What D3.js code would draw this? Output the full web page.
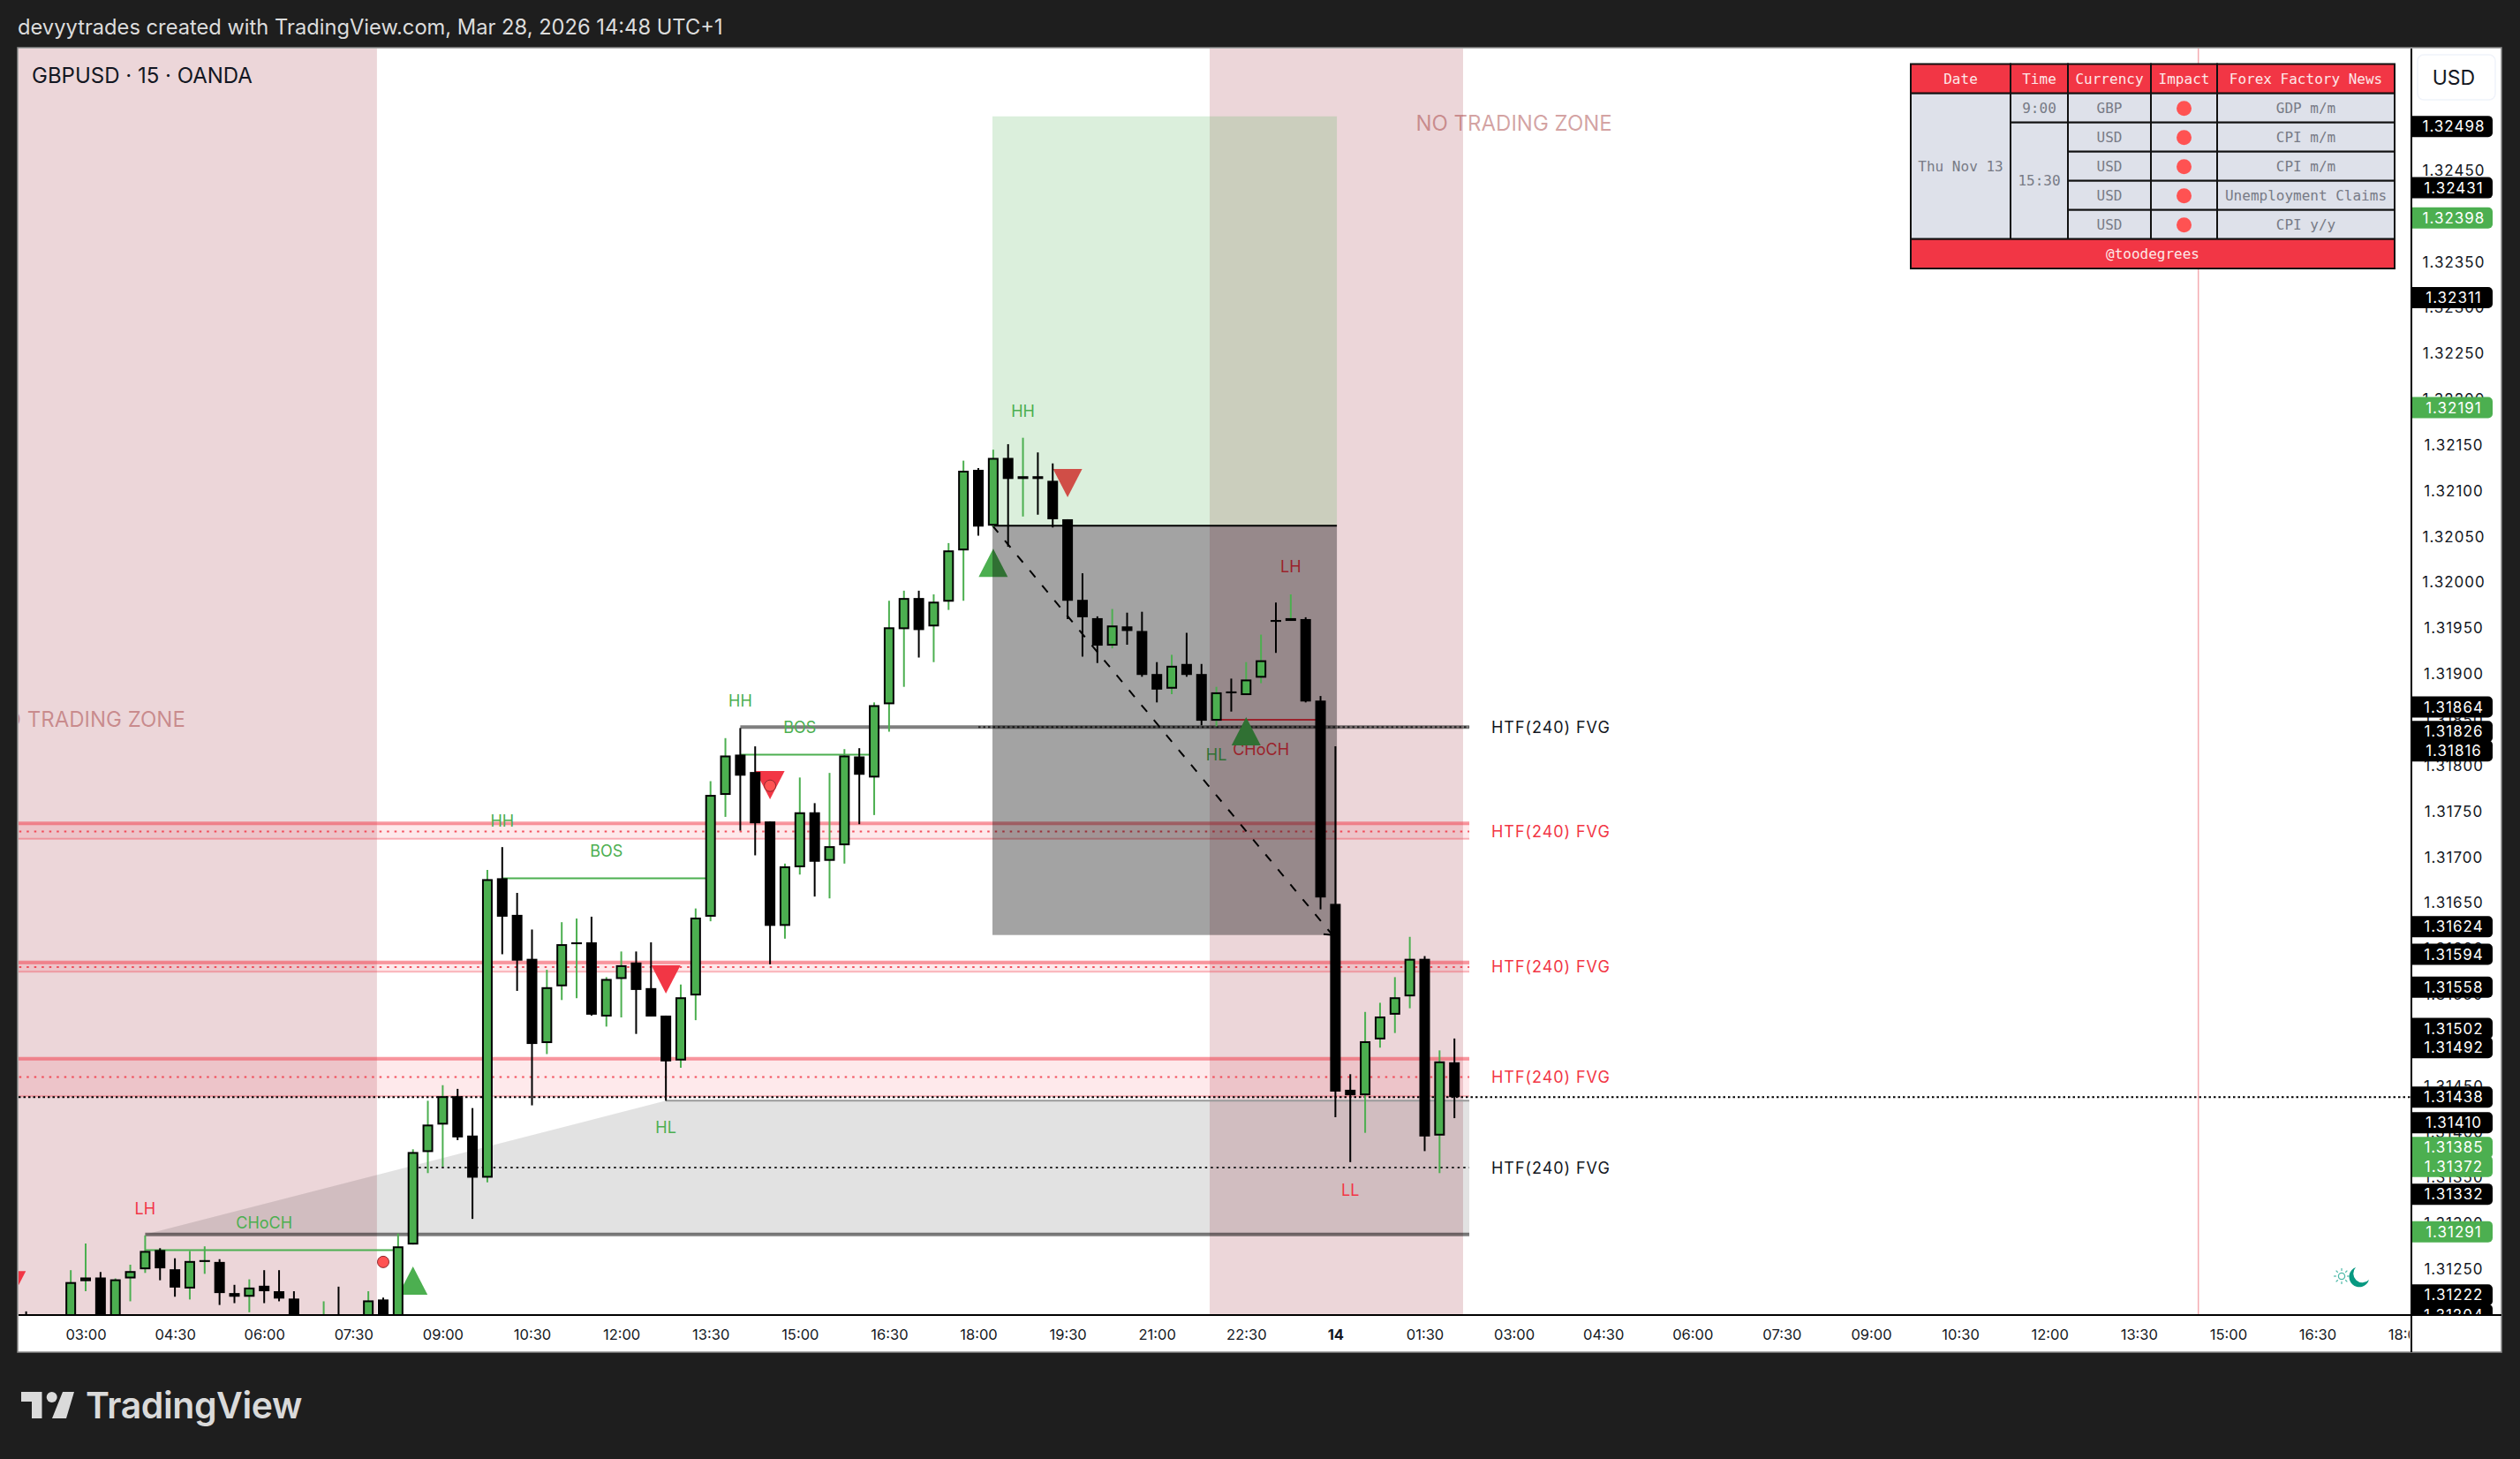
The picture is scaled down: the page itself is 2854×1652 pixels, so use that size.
<!DOCTYPE html>
<html>
<head>
<meta charset="utf-8">
<script src="https://cdn.jsdelivr.net/npm/d3@7"></script>
<style>
html,body{margin:0;padding:0;background:#1e1e1e;overflow:hidden}
svg{display:block}
text{font-family:Inter,"Noto Sans",sans-serif}
</style>
</head>
<body>
<div id="chart"></div>
<script>
// ---------- DATA ----------
const firstBar = -4;
const highs = [
1.31204,1.31190,1.31195,1.31249,1.31278,1.31247,1.31240,1.31255,1.31287,1.31273,
1.31262,1.31270,1.31275,1.31261,1.31233,1.31239,1.31249,1.31249,1.31226,1.31195,
1.31215,1.31231,1.31195,1.31226,1.31219,1.31289,1.31381,1.31434,1.31451,1.31447,
1.31426,1.31686,1.31711,1.31661,1.31621,1.31577,1.31629,1.31633,1.31635,1.31569,
1.31597,1.31597,1.31607,1.31527,1.31561,1.31644,1.31783,1.31830,1.31841,1.31821,
1.31739,1.31693,1.31787,1.31759,1.31792,1.31818,1.31819,1.31869,1.31980,1.31991,
1.31991,1.31987,1.32043,1.32133,1.32125,1.32145,1.32151,1.32158,1.32142,1.32130,
1.32069,1.32010,1.31963,1.31971,1.31967,1.31968,1.31913,1.31921,1.31945,1.31911,
1.31886,1.31895,1.31913,1.31943,1.31978,1.31987,1.31962,1.31876,1.31821,1.31463,
1.31531,1.31541,1.31569,1.31613,1.31592,1.31489,1.31502];
const lows = [
1.31170,1.31170,1.31172,1.31180,1.31226,1.31180,1.31180,1.31215,1.31246,1.31238,
1.31220,1.31217,1.31245,1.31211,1.31213,1.31203,1.31213,1.31215,1.31180,1.31170,
1.31170,1.31170,1.31170,1.31170,1.31170,1.31170,1.31277,1.31355,1.31362,1.31391,
1.31305,1.31345,1.31594,1.31554,1.31429,1.31485,1.31544,1.31546,1.31527,1.31515,
1.31525,1.31507,1.31526,1.31434,1.31470,1.31522,1.31630,1.31744,1.31729,1.31702,
1.31583,1.31611,1.31681,1.31657,1.31655,1.31693,1.31736,1.31746,1.31837,1.31886,
1.31918,1.31913,1.31970,1.31980,1.32051,1.32061,1.32039,1.32072,1.32074,1.32060,
1.31960,1.31919,1.31912,1.31928,1.31932,1.31897,1.31869,1.31878,1.31897,1.31844,
1.31843,1.31859,1.31877,1.31890,1.31923,1.31958,1.31869,1.31643,1.31416,1.31367,
1.31399,1.31492,1.31508,1.31535,1.31379,1.31355,1.31415];
const opens = [
1.31195,1.31175,1.31178,1.31190,1.31237,1.31241,1.31190,1.31240,1.31250,1.31271,
1.31250,1.31229,1.31258,1.31258,1.31224,1.31220,1.31232,1.31226,1.31218,1.31190,
1.31180,1.31198,1.31180,1.31180,1.31217,1.31180,1.31277,1.31378,1.31408,1.31439,
1.31396,1.31350,1.31677,1.31637,1.31589,1.31497,1.31559,1.31605,1.31607,1.31526,
1.31567,1.31585,1.31557,1.31527,1.31478,1.31549,1.31635,1.31768,1.31812,1.31793,
1.31739,1.31625,1.31689,1.31749,1.31696,1.31713,1.31810,1.31787,1.31867,1.31949,
1.31983,1.31952,1.31979,1.32035,1.32123,1.32062,1.32136,1.32113,1.32116,1.32111,
1.32069,1.31981,1.31961,1.31931,1.31952,1.31947,1.31900,1.31884,1.31911,1.31900,
1.31849,1.31881,1.31877,1.31896,1.31959,1.31958,1.31960,1.31871,1.31649,1.31446,
1.31440,1.31501,1.31528,1.31548,1.31589,1.31396,1.31476];
const closes = [
1.31180,1.31185,1.31190,1.31236,1.31241,1.31190,1.31239,1.31248,1.31270,1.31251,
1.31230,1.31259,1.31260,1.31224,1.31220,1.31230,1.31226,1.31218,1.31190,1.31178,
1.31195,1.31180,1.31193,1.31216,1.31180,1.31275,1.31378,1.31408,1.31439,1.31394,
1.31350,1.31676,1.31635,1.31587,1.31496,1.31558,1.31605,1.31607,1.31528,1.31567,
1.31582,1.31555,1.31526,1.31477,1.31547,1.31634,1.31768,1.31811,1.31789,1.31737,
1.31625,1.31690,1.31749,1.31695,1.31712,1.31811,1.31790,1.31866,1.31951,1.31983,
1.31948,1.31979,1.32035,1.32122,1.32061,1.32136,1.32113,1.32116,1.32113,1.32069,
1.31980,1.31962,1.31931,1.31953,1.31947,1.31899,1.31883,1.31909,1.31899,1.31849,
1.31880,1.31880,1.31894,1.31915,1.31958,1.31961,1.31870,1.31656,1.31444,1.31440,
1.31499,1.31526,1.31547,1.31589,1.31395,1.31477,1.31438];

const timeTickBars = [0,6,12,18,24,30,36,42,48,54,60,66,72,78,84,90,96,102,108,114,120,126,132,138,144,150,156];
const timeTickLabels = ["03:00","04:30","06:00","07:30","09:00","10:30","12:00","13:30","15:00","16:30","18:00","19:30","21:00","22:30","14","01:30","03:00","04:30","06:00","07:30","09:00","10:30","12:00","13:30","15:00","16:30","18:00"];
const priceTicks = [1.325,1.3245,1.324,1.3235,1.323,1.3225,1.322,1.3215,1.321,1.3205,1.32,1.3195,1.319,1.3185,1.318,1.3175,1.317,1.3165,1.316,1.3155,1.315,1.3145,1.314,1.3135,1.313,1.3125];
const blackTags = [1.32498,1.32431,1.32311,1.31864,1.31826,1.31816,1.31624,1.31594,1.31558,1.31502,1.31492,1.31438,1.31410,1.31332,1.31222,1.31204];
const greenTags = [1.32398,1.32191,1.31385,1.31372,1.31291];

const sessionStarts = [-8,75.55];
const sessionEnds = [19.58,92.58];
const sessionTitleBars = [0.1,96];
const sessionTitlePrices = [1.31851,1.32502];

const fvgTops = [1.31737,1.31585,1.31480];
const fvgMids = [1.31728,1.31580,1.31460];
const fvgBottoms = [1.31720,1.31575,1.31439];
const fvgRedLabelPrices = [1.31728,1.31580,1.31460];
const fvgBlackPrices = [1.31842,1.31361];
const lastClose = 1.31438;

const labelTexts = ["LH","CHoCH","HL","HH","BOS","HH","BOS","HH","LH","HL","CHoCH","LL"];
const labelBars = [4,12,39,28,35,44,48,63,81,76,79,85];
const labelPrices = [1.31316,1.31301,1.31405,1.31740,1.31707,1.31871,1.31842,1.32187,1.32017,1.31812,1.31818,1.31336];
const labelBull = [false,true,true,true,true,true,true,true,false,true,false,false];

const triUpBars = [22,61,78];
const triUpPrices = [1.31253,1.32037,1.31853];
const triDownBars = [-5,39,46,66];
const triDownPrices = [1.31248,1.31582,1.31794,1.32124];
const dotBars = [20,46];
const dotPrices = [1.31258,1.31778];

const breakFrom = [28,44,4,76];
const breakTo = [42,53,21,83];
const breakPrices = [1.31677,1.31812,1.31271,1.31850];
const breakBull = [true,true,true,false];

const tradeStartBar = 60.95, tradeEndBar = 84.1;
const tradeTarget = 1.32509, tradeEntry = 1.32062, tradeStop = 1.31615;
const tradeExitBar = 83.8;

const gapStartBar = 4, gapPivotBar = 39, zoneEndBar = 93;
const gapTop = 1.31434, gapBottom = 1.31288, gapMidStartBar = 22, fvgBlackTopStartBar = 44, fvgBlackDotStartBar = 60;
const nowBar = 142;

const tableHead = ["Date","Time","Currency","Impact","Forex Factory News"];
const newsDate = "Thu Nov 13";
const newsCurrency = ["GBP","USD","USD","USD","USD"];
const newsName = ["GDP m/m","CPI m/m","CPI m/m","Unemployment Claims","CPI y/y"];
const tableFooter = "@toodegrees";

// ---------- LAYOUT ----------
const W=2854,H=1652, L=21,T=55,R=2730,B=1489,FR=2833,FB=1531;
const green="#4caf50", red="#f23645";
const svg=d3.select("#chart").append("svg").attr("width",W).attr("height",H);
const x=d3.scaleLinear().domain([0,90]).range([97,1613.5]);
const y=d3.scaleLinear().domain([1.312,1.32583]).range([B,T]);

svg.append("rect").attr("width",W).attr("height",H).attr("fill","#1e1e1e");
svg.append("rect").attr("x",20).attr("y",54).attr("width",FR-20).attr("height",FB-54).attr("fill","#fff").attr("stroke","#8a8a8a").attr("stroke-width",1.5);
const defs=svg.append("defs");
defs.append("clipPath").attr("id","plot").append("rect").attr("x",L).attr("y",T).attr("width",R-L).attr("height",B-T);
defs.append("clipPath").attr("id","prices").append("rect").attr("x",R).attr("y",T).attr("width",FR-R).attr("height",B-T);
defs.append("clipPath").attr("id","times").append("rect").attr("x",L).attr("y",B).attr("width",R-L-1).attr("height",FB-B);

svg.append("text").attr("x",20).attr("y",31).attr("dy",".35em").attr("fill","#dcdcdc").attr("font-size",23.7)
  .text("devyytrades created with TradingView.com, Mar 28, 2026 14:48 UTC+1");

const plot=svg.append("g").attr("clip-path","url(#plot)");

// now line
plot.append("line").attr("x1",x(nowBar)).attr("x2",x(nowBar)).attr("y1",T).attr("y2",B).attr("stroke","#f5abb1").attr("stroke-width",1.5);

// sessions
plot.selectAll(".sess").data(sessionStarts).join("rect")
  .attr("x",d=>x(d)).attr("y",T).attr("width",(d,i)=>x(sessionEnds[i])-x(d)).attr("height",B-T).attr("fill","rgba(139,0,20,.16)");
plot.selectAll(".stitle").data(sessionTitleBars).join("text")
  .attr("x",d=>x(d)).attr("y",(d,i)=>y(sessionTitlePrices[i])).attr("dy",".36em").attr("text-anchor","middle")
  .attr("font-size",24).attr("fill","rgba(150,30,30,.42)").text("NO TRADING ZONE");

// gap polygon
const ln=d3.line().x(d=>x(d[0])).y(d=>y(d[1]));
plot.append("path").attr("d",ln([[gapStartBar,gapBottom],[gapPivotBar,gapTop],[zoneEndBar,gapTop],[zoneEndBar,gapBottom]])+"Z").attr("fill","rgba(0,0,0,.115)");
plot.append("path").attr("d",ln([[gapPivotBar,gapTop],[zoneEndBar,gapTop]])).attr("stroke","#999").attr("stroke-width",2).attr("fill","none");
plot.append("path").attr("d",ln([[gapStartBar,gapBottom],[zoneEndBar,gapBottom]])).attr("stroke","rgba(0,0,0,.5)").attr("stroke-width",4).attr("fill","none");
plot.append("path").attr("d",ln([[gapMidStartBar,fvgBlackPrices[1]],[zoneEndBar,fvgBlackPrices[1]]])).attr("stroke","#222").attr("stroke-width",2).attr("stroke-dasharray","2.5,4").attr("fill","none");
plot.append("path").attr("d",ln([[fvgBlackTopStartBar,fvgBlackPrices[0]],[zoneEndBar,fvgBlackPrices[0]]])).attr("stroke","rgba(0,0,0,.5)").attr("stroke-width",4).attr("fill","none");
plot.append("path").attr("d",ln([[fvgBlackDotStartBar,fvgBlackPrices[0]],[zoneEndBar,fvgBlackPrices[0]]])).attr("stroke","#222").attr("stroke-width",2).attr("stroke-dasharray","2.5,3").attr("fill","none");

// red FVG bands
fvgTops.forEach((t,i)=>{
  const g=plot.append("g");
  g.append("rect").attr("x",x(-8)).attr("y",y(t)).attr("width",x(zoneEndBar)-x(-8)).attr("height",y(fvgBottoms[i])-y(t)).attr("fill","rgba(242,54,69,.11)");
  g.append("line").attr("x1",x(-8)).attr("x2",x(zoneEndBar)).attr("y1",y(t)).attr("y2",y(t)).attr("stroke","rgba(242,54,69,.5)").attr("stroke-width",4);
  g.append("line").attr("x1",x(-8)).attr("x2",x(zoneEndBar)).attr("y1",y(fvgBottoms[i])).attr("y2",y(fvgBottoms[i])).attr("stroke","rgba(242,54,69,.35)").attr("stroke-width",2);
  g.append("line").attr("x1",x(-8)).attr("x2",x(zoneEndBar)).attr("y1",y(fvgMids[i])).attr("y2",y(fvgMids[i])).attr("stroke","rgba(242,54,69,.85)").attr("stroke-width",2).attr("stroke-dasharray","2.5,6");
});

// structure breaks
plot.selectAll(".brk").data(breakPrices).join("line")
  .attr("x1",(d,i)=>x(breakFrom[i])).attr("x2",(d,i)=>x(breakTo[i])).attr("y1",d=>y(d)).attr("y2",d=>y(d))
  .attr("stroke",(d,i)=>breakBull[i]?green:red).attr("stroke-width",2);

// last price line
plot.append("line").attr("x1",L).attr("x2",R).attr("y1",y(lastClose)).attr("y2",y(lastClose)).attr("stroke","#000").attr("stroke-width",2).attr("stroke-dasharray","2.5,3");

// structure text
plot.selectAll(".lab").data(labelTexts).join("text")
  .attr("x",(d,i)=>x(labelBars[i])).attr("y",(d,i)=>y(labelPrices[i])).attr("dy",".36em").attr("text-anchor","middle")
  .attr("font-size",18).attr("fill",(d,i)=>labelBull[i]?green:red).text(d=>d);

// triangles & dots
plot.selectAll(".up").data(triUpBars).join("path").attr("d","M0,0L16.5,32L-16.5,32Z").attr("fill",green)
  .attr("transform",(d,i)=>`translate(${x(d)},${y(triUpPrices[i])})`);
plot.selectAll(".dn").data(triDownBars).join("path").attr("d","M-16.5,0L16.5,0L0,32Z").attr("fill",red)
  .attr("transform",(d,i)=>`translate(${x(d)},${y(triDownPrices[i])})`);

// trade tool
plot.append("rect").attr("x",x(tradeStartBar)).attr("y",y(tradeTarget)).attr("width",x(tradeEndBar)-x(tradeStartBar)).attr("height",y(tradeEntry)-y(tradeTarget)).attr("fill","rgba(76,175,80,.2)");
plot.append("rect").attr("x",x(tradeStartBar)).attr("y",y(tradeEntry)).attr("width",x(tradeEndBar)-x(tradeStartBar)).attr("height",y(tradeStop)-y(tradeEntry)).attr("fill","rgba(0,0,0,.36)");
plot.append("line").attr("x1",x(tradeStartBar)).attr("x2",x(tradeEndBar)).attr("y1",y(tradeEntry)).attr("y2",y(tradeEntry)).attr("stroke","#000").attr("stroke-width",2);
plot.append("path").attr("d",ln([[tradeStartBar,tradeEntry],[tradeExitBar,tradeStop]])).attr("stroke","#000").attr("stroke-width",2).attr("stroke-dasharray","10,12").attr("fill","none");
plot.append("path").attr("d",`M${x(tradeExitBar)-10},${y(tradeStop)-1}L${x(tradeExitBar)},${y(tradeStop)}L${x(tradeExitBar)-1},${y(tradeStop)-9}`).attr("stroke","#000").attr("stroke-width",2).attr("fill","none");

// candles
const idx=d3.range(highs.length);
const up=i=>closes[i]>=opens[i];
const bar=i=>firstBar+i;
const cg=plot.append("g");
cg.selectAll(".wick").data(idx).join("line")
  .attr("x1",i=>x(bar(i))).attr("x2",i=>x(bar(i))).attr("y1",i=>y(highs[i])).attr("y2",i=>y(lows[i]))
  .attr("stroke",i=>up(i)?green:"#000").attr("stroke-width",2);
cg.selectAll(".body").data(idx).join("rect")
  .attr("x",i=>x(bar(i))-5).attr("width",10)
  .attr("y",i=>y(Math.max(opens[i],closes[i]))+1)
  .attr("height",i=>Math.max(y(Math.min(opens[i],closes[i]))-y(Math.max(opens[i],closes[i]))-2,.1))
  .attr("fill",i=>up(i)?green:"#000").attr("stroke","#000").attr("stroke-width",2);

plot.selectAll(".dot").data(dotBars).join("circle").attr("cx",d=>x(d)).attr("cy",(d,i)=>y(dotPrices[i])).attr("r",6.5)
  .attr("fill","#ff5252").attr("stroke","#8d2a2f").attr("stroke-width",1);

// moon
const mx=2672,my=1446;
plot.append("path").attr("fill","#089981").attr("d",`M${mx-4},${my-11}A11.5,11.5 0 1 0 ${mx+11},${my+3}A10,10 0 0 1 ${mx-4},${my-11}Z`);
plot.append("circle").attr("cx",2652).attr("cy",1445).attr("r",3.6).attr("fill","none").attr("stroke","#4fb9a8").attr("stroke-width",1.3);
d3.range(8).forEach(k=>{const a=k*Math.PI/4;plot.append("line").attr("x1",2652+6*Math.cos(a)).attr("y1",1445+6*Math.sin(a)).attr("x2",2652+9*Math.cos(a)).attr("y2",1445+9*Math.sin(a)).attr("stroke","#4fb9a8").attr("stroke-width",1.2);});

// FVG labels
const fvgAll=[...fvgRedLabelPrices.map(p=>[p,red]),...fvgBlackPrices.map(p=>[p,"#131722"])];
plot.selectAll(".fvgl").data(fvgAll).join("text").attr("x",1689).attr("y",d=>y(d[0])).attr("dy",".36em")
  .attr("font-size",18).attr("letter-spacing",".95").attr("fill",d=>d[1]).text("HTF(240) FVG");

svg.append("text").attr("x",36).attr("y",85.5).attr("dy",".36em").attr("font-size",24).attr("fill","#131722").text("GBPUSD · 15 · OANDA");

// table
const cols=[2164,2277,2342,2436,2511,2712], rows=[72.5,105.7,138.7,171.7,204.7,237.7,270.7,304];
const tb=svg.append("g").attr("font-size",16);
const cell=(c0,c1,r0,r1,fill,txt,col)=>{
  tb.append("rect").attr("x",cols[c0]).attr("y",rows[r0]).attr("width",cols[c1]-cols[c0]).attr("height",rows[r1]-rows[r0]).attr("fill",fill).attr("stroke","#111").attr("stroke-width",2);
  if(txt) tb.append("text").attr("x",(cols[c0]+cols[c1])/2).attr("y",(rows[r0]+rows[r1])/2).attr("dy",".34em").attr("text-anchor","middle").attr("fill",col).style("font-family","'DejaVu Sans Mono',monospace").text(txt);
};
const tc="#787b86",cf="#dee1ea";
tableHead.forEach((h,i)=>cell(i,i+1,0,1,red,h,"#fde8e8"));
cell(0,1,1,6,cf,newsDate,tc);
cell(1,2,1,2,cf,"9:00",tc);
cell(1,2,2,6,cf,"15:30",tc);
newsCurrency.forEach((c,i)=>{
  cell(2,3,i+1,i+2,cf,c,tc);
  cell(3,4,i+1,i+2,cf,"",tc);
  tb.append("circle").attr("cx",(cols[3]+cols[4])/2).attr("cy",(rows[i+1]+rows[i+2])/2+.5).attr("r",8.5).attr("fill","#ff5252");
  cell(4,5,i+1,i+2,cf,newsName[i],tc);
});
cell(0,5,6,7,red,tableFooter,"#fde8e8");

// price axis
const pax=svg.append("g").attr("clip-path","url(#prices)");
const yAxis=d3.axisRight(y).tickValues(priceTicks).tickSize(0).tickFormat(d3.format(".5f"));
const ya=pax.append("g").attr("transform",`translate(${R},0)`).call(yAxis);
ya.select(".domain").remove();
ya.selectAll("text").attr("x",49).attr("text-anchor","middle").attr("font-size",17).attr("letter-spacing","1").attr("fill","#131722").style("font-family","Inter");

const tagNudge=new Map([[1.31826,-11.6],[1.31502,-11.4],[1.31372,10],[1.31385,2],[1.31204,4]]);
const tags=[...blackTags.map(p=>[p,"#000"]),...greenTags.map(p=>[p,green])];
const tagG=pax.selectAll(".tag").data(tags).join("g").attr("transform",d=>`translate(${R+1},${y(d[0])+(tagNudge.get(d[0])||0)})`);
tagG.append("path").attr("d","M0,-12H87a5,5 0 0 1 5,5V7a5,5 0 0 1 -5,5H0Z").attr("fill",d=>d[1]);
tagG.append("text").attr("x",48).attr("dy",".36em").attr("text-anchor","middle").attr("font-size",17).attr("letter-spacing","1").attr("fill","#fff").text(d=>d3.format(".5f")(d[0]));

// time axis
const xAxis=d3.axisBottom(x).tickValues(timeTickBars).tickSize(0).tickFormat((d,i)=>timeTickLabels[i]);
const xa=svg.append("g").attr("clip-path","url(#times)").append("g").attr("transform",`translate(0,${B})`).call(xAxis);
xa.select(".domain").remove();
xa.selectAll("text").attr("y",22).attr("dy",".36em").attr("font-size",16.5).attr("fill","#131722").style("font-family","Inter")
  .attr("font-weight",(d,i)=>timeTickLabels[i]==="14"?700:400);

// frame lines
svg.append("line").attr("x1",R+1).attr("x2",R+1).attr("y1",T).attr("y2",FB).attr("stroke","#000").attr("stroke-width",2);
svg.append("line").attr("x1",L).attr("x2",FR).attr("y1",B).attr("y2",B).attr("stroke","#000").attr("stroke-width",2);

// USD button
svg.append("rect").attr("x",2738).attr("y",62).attr("width",88).attr("height",51).attr("rx",7).attr("fill","#fff").attr("stroke","#f0f3fa").attr("stroke-width",1.5);
svg.append("text").attr("x",2779).attr("y",88).attr("dy",".36em").attr("text-anchor","middle").attr("font-size",23).attr("fill","#131722").text("USD");

// logo
const lg=svg.append("g").attr("fill","#dadada");
lg.append("path").attr("d","M24,1576H47.5V1606H36V1587H24Z");
lg.append("circle").attr("cx",58.7).attr("cy",1582).attr("r",6);
lg.append("path").attr("d","M71,1576H84L75,1606H59Z");
lg.append("text").attr("x",97).attr("y",1606).attr("font-size",41).attr("font-weight",600).attr("letter-spacing","-.45").text("TradingView");
</script>
</body>
</html>
